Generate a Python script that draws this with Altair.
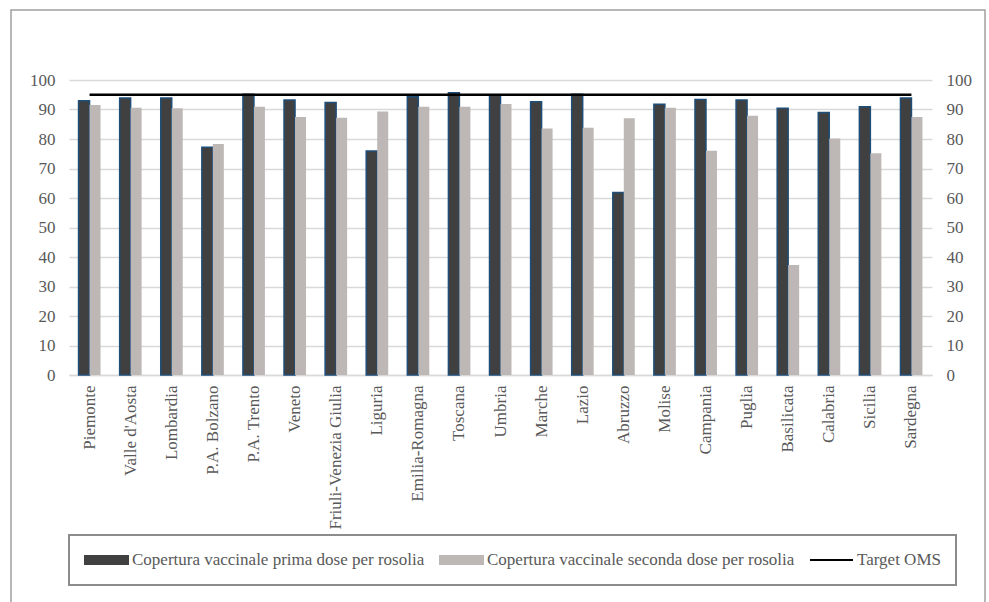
import altair as alt
import pandas as pd

FONT = "Liberation Serif"
LBL = "#595959"

regions = ["Piemonte", "Valle d'Aosta", "Lombardia", "P.A. Bolzano", "P.A. Trento",
           "Veneto", "Friuli-Venezia Giulia", "Liguria", "Emilia-Romagna", "Toscana",
           "Umbria", "Marche", "Lazio", "Abruzzo", "Molise", "Campania", "Puglia",
           "Basilicata", "Calabria", "Sicilia", "Sardegna"]
prima = [93.0, 93.9, 93.9, 77.2, 95.2, 93.2, 92.4, 75.9, 94.3, 95.7, 94.9,
         92.6, 95.2, 61.9, 91.8, 93.4, 93.2, 90.4, 89.0, 90.9, 93.9]
seconda = [91.5, 90.6, 90.4, 78.3, 90.9, 87.5, 87.2, 89.3, 90.9, 90.9, 91.9,
           83.6, 83.8, 87.0, 90.6, 76.0, 87.9, 37.3, 80.2, 75.2, 87.5]
target = [95, 95, 95, 95, 95, 95, 95, 95, 95, 95, 95,
          95, 95, 95, 95, 95, 95, 95, 95, 95, 95]

S1 = "Copertura vaccinale prima dose per rosolia"
S2 = "Copertura vaccinale seconda dose per rosolia"
S3 = "Target OMS"
series_names = [S1, S2, S3]
series_colors = ["#404040", "#BDB8B6", "#000000"]

bars_df = pd.DataFrame({
    "region": regions * 2,
    "series": [S1] * len(regions) + [S2] * len(regions),
    "value": prima + seconda,
})
line_df = pd.DataFrame({"region": regions, "target": target, "series": [S3] * len(regions)})

BAR_PATH = "M-1,-0.19H1V0.19H-1Z"

legend = alt.Legend(
    title=None, orient="none", legendX=0, legendY=455, direction="horizontal", columns=3,
    strokeColor="#8C8C8C", padding=15, columnPadding=14, clipHeight=20,
    labelFont=FONT, labelFontSize=17, labelColor=LBL, labelLimit=600, labelOffset=3,
    symbolSize=1849,
    symbolType={"expr": f"datum.value === '{S3}' ? 'stroke' : '{BAR_PATH}'"},
    symbolStrokeWidth=2,
    symbolStrokeColor={"expr": f"datum.value === '{S3}' ? '#000000' : (datum.value === '{S1}' ? '#1F4E79' : 'transparent')"},
    symbolFillColor={"expr": f"datum.value === '{S3}' ? 'transparent' : (datum.value === '{S1}' ? '#404040' : '#BDB8B6')"},
    symbolOpacity=1,
)

color_scale = alt.Scale(domain=series_names, range=series_colors)
x_scale = alt.Scale(paddingInner=0.465, paddingOuter=0.2325)
y_scale = alt.Scale(domain=[0, 100], nice=False)

x_axis = alt.Axis(title=None, labelAngle=-90, labelPadding=10, ticks=False,
                  domainColor="#D9D9D9", domainWidth=1.5,
                  labelFont=FONT, labelFontSize=17, labelColor=LBL)

frame = alt.Chart(alt.Data(values=[{"f": 1}])).mark_rect(
    fill="transparent", stroke="#A0A0A0", strokeWidth=1.5
).encode(x=alt.value(-58), x2=alt.value(916), y=alt.value(-70), y2=alt.value(560))

bars = alt.Chart(bars_df).mark_bar(strokeWidth=1.5).encode(
    x=alt.X("region:N", sort=regions, scale=x_scale, axis=x_axis),
    xOffset=alt.XOffset("series:N", sort=[S1, S2], scale=alt.Scale(paddingInner=0, paddingOuter=0)),
    y=alt.Y("value:Q", scale=y_scale,
            axis=alt.Axis(title=None, orient="left", values=list(range(0, 101, 10)),
                          grid=True, gridColor="#D9D9D9", gridWidth=1.5,
                          domain=False, ticks=False, labelPadding=14,
                          labelFont=FONT, labelFontSize=17, labelColor=LBL)),
    color=alt.Color("series:N", scale=color_scale, legend=legend),
    stroke=alt.condition(f"datum.series === '{S1}'", alt.value("#1F4E79"), alt.value("transparent")),
)

line = alt.Chart(line_df).mark_line(strokeWidth=2.5).encode(
    x=alt.X("region:N", sort=regions, scale=x_scale, axis=x_axis),
    y=alt.Y("target:Q", scale=y_scale,
            axis=alt.Axis(title=None, orient="right", values=list(range(0, 101, 10)),
                          grid=False, domain=False, ticks=False, labelPadding=14,
                          labelFont=FONT, labelFontSize=17, labelColor=LBL)),
    color=alt.Color("series:N", scale=color_scale, legend=legend),
)

chart = alt.layer(frame, bars, line).resolve_axis(y="independent").properties(
    width=863, height=295,
    padding={"left": 69, "top": 80, "right": 57, "bottom": 227},
    autosize=alt.AutoSizeParams(type="none"),
).configure(
    background="white", font=FONT
).configure_view(stroke=None).configure_axis(
    labelFont=FONT, labelFontSize=17, labelColor=LBL
).configure_legend(
    strokeWidth=2, labelFont=FONT, labelFontSize=17, labelColor=LBL
)

chart.save("out.html", embed_options={"renderer": "svg", "actions": False})
